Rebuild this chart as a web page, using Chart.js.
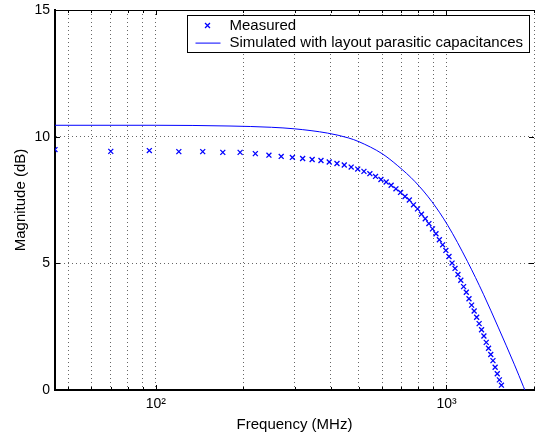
<!DOCTYPE html>
<html lang="en">
  <head>
    <meta charset="UTF-8" />
    <title>Magnitude vs frequency</title>
    <script src="https://cdn.jsdelivr.net/npm/chart.js"></script>
    <style>
      html,
      body {
        margin: 0;
        padding: 0;
        background: #fff;
        overflow: hidden;
      }

      .wrap {
        position: relative;
        width: 540px;
        height: 436px;
      }
    </style>
  </head>
  <body>
    <div class="wrap"><canvas id="chart" width="540" height="436"></canvas></div>

    <script>
      // measured points (MHz, dB)
      const measuredFreq = [
        45, 70, 95, 120, 145, 170, 195, 220, 245, 270, 295, 320, 345, 370, 395,
        420, 445, 470, 495, 520, 545, 570, 595, 620, 645, 670, 695, 720, 745,
        770, 795, 820, 845, 870, 895, 920, 945, 970, 995, 1020, 1045, 1070,
        1095, 1120, 1145, 1170, 1195, 1220, 1245, 1270, 1295, 1320, 1345, 1370,
        1395, 1420, 1445, 1470, 1495, 1520, 1545,
      ];
      const measuredDb = [
        9.49, 9.42, 9.45, 9.41, 9.41, 9.38, 9.38, 9.33, 9.27, 9.22, 9.18, 9.14,
        9.1, 9.06, 9.0, 8.94, 8.88, 8.8, 8.72, 8.63, 8.54, 8.43, 8.31, 8.21,
        8.08, 7.94, 7.8, 7.64, 7.5, 7.31, 7.15, 6.94, 6.76, 6.57, 6.36, 6.17,
        5.93, 5.73, 5.51, 5.27, 5.01, 4.8, 4.56, 4.33, 4.08, 3.86, 3.6, 3.35,
        3.12, 2.87, 2.62, 2.38, 2.13, 1.88, 1.65, 1.4, 1.16, 0.9, 0.64, 0.4,
        0.19,
      ];

      // simulated curve
      const simFreq = [
        45, 100, 180, 250, 300, 390, 460, 500, 600, 680, 780, 890, 1010, 1180,
        1340, 1510, 1710, 1840, 2000,
      ];
      const simDb = [
        10.45, 10.45, 10.42, 10.37, 10.31, 10.14, 9.95, 9.8, 9.33, 8.85, 8.22,
        7.44, 6.5, 5.08, 3.78, 2.45, 1.02, 0.13, -0.9,
      ];

      const gridFreqs = [
        50, 60, 70, 80, 90, 100, 200, 300, 400, 500, 600, 700, 800, 900, 1000,
        2000,
      ];
      const tickLabels = { 100: "10²", 1000: "10³" };
      const yTicks = [0, 5, 10, 15];

      const FONT = '"Liberation Sans", Arial, sans-serif';
      const BLUE = "#0000ff";

      const toPoints = (xs, ys) => xs.map((x, i) => ({ x, y: ys[i] }));

      // matlab style: top border + ticks pointing inwards
      const insideTicks = {
        id: "insideTicks",
        afterDatasetsDraw(chart) {
          const { ctx, chartArea } = chart;
          const xs = chart.scales.x;
          const ys = chart.scales.y;
          ctx.save();
          ctx.strokeStyle = "#000";
          ctx.lineWidth = 1;
          ctx.beginPath();
          ctx.moveTo(chartArea.left, chartArea.top + 0.5);
          ctx.lineTo(chartArea.right, chartArea.top + 0.5);
          gridFreqs.forEach((f) => {
            const px = Math.round(xs.getPixelForValue(f)) + 0.5;
            const len = tickLabels[f] ? 5 : 3;
            ctx.moveTo(px, chartArea.bottom);
            ctx.lineTo(px, chartArea.bottom - len);
            ctx.moveTo(px, chartArea.top);
            ctx.lineTo(px, chartArea.top + len);
          });
          yTicks.forEach((v) => {
            const py = Math.round(ys.getPixelForValue(v)) + 0.5;
            ctx.moveTo(chartArea.left, py);
            ctx.lineTo(chartArea.left + 5, py);
            ctx.moveTo(chartArea.right, py);
            ctx.lineTo(chartArea.right - 5, py);
          });
          ctx.stroke();
          ctx.restore();
        },
      };

      // boxed legend inside the top right corner
      const boxLegend = {
        id: "boxLegend",
        afterDraw(chart) {
          const { ctx, chartArea } = chart;
          const sets = chart.data.datasets;
          ctx.save();
          ctx.font = "15px " + FONT;
          const textW = Math.max(...sets.map((d) => ctx.measureText(d.label).width));
          const w = Math.round(42 + textW + 7);
          const h = 37;
          const left = Math.round(chartArea.right - 5 - w) + 0.5;
          const top = Math.round(chartArea.top + 5) + 0.5;
          ctx.fillStyle = "#fff";
          ctx.fillRect(left, top, w, h);
          ctx.strokeStyle = "#000";
          ctx.lineWidth = 1;
          ctx.strokeRect(left, top, w, h);

          sets.forEach((d, i) => {
            const y = top + 10 + i * 17.6;
            ctx.strokeStyle = d.borderColor;
            ctx.lineWidth = d.borderWidth;
            if (d.showLine === false) {
              Chart.helpers.drawPoint(
                ctx,
                { pointStyle: d.pointStyle, radius: d.pointRadius, borderWidth: d.borderWidth, rotation: 0 },
                left + 20,
                y
              );
            } else {
              ctx.beginPath();
              ctx.moveTo(left + 8, y);
              ctx.lineTo(left + 33, y);
              ctx.stroke();
            }
            ctx.fillStyle = "#000";
            ctx.textBaseline = "middle";
            ctx.textAlign = "left";
            ctx.fillText(d.label, left + 42, y);
          });
          ctx.restore();
        },
      };

      new Chart(document.getElementById("chart"), {
        type: "line",
        data: {
          datasets: [
            {
              label: "Measured",
              data: toPoints(measuredFreq, measuredDb),
              showLine: false,
              pointStyle: "crossRot",
              pointRadius: 3.5,
              borderWidth: 1.3,
              borderColor: BLUE,
              backgroundColor: BLUE,
            },
            {
              label: "Simulated with layout parasitic capacitances",
              data: toPoints(simFreq, simDb),
              pointRadius: 0,
              borderWidth: 1,
              borderColor: BLUE,
              cubicInterpolationMode: "monotone",
            },
          ],
        },
        options: {
          responsive: false,
          animation: false,
          layout: { padding: { left: 0, right: 3, top: 10, bottom: 0 } },
          plugins: {
            legend: { display: false },
            tooltip: { enabled: false },
          },
          scales: {
            x: {
              type: "logarithmic",
              min: 45,
              max: 2000,
              afterBuildTicks: (scale) => {
                scale.ticks = gridFreqs.map((v) => ({ value: v }));
              },
              afterFit: (scale) => {
                scale.height = 46;
              },
              grid: { color: "rgba(0,0,0,0.6)", lineWidth: 1, drawTicks: false },
              border: { display: true, color: "#000", width: 2, dash: [1, 3] },
              ticks: {
                autoSkip: false,
                maxRotation: 0,
                padding: 6,
                color: "#000",
                font: { family: FONT, size: 14 },
                callback: (v) => tickLabels[v] || "",
              },
              title: {
                display: true,
                text: "Frequency (MHz)",
                color: "#000",
                font: { family: FONT, size: 15 },
                padding: { top: 0, bottom: 2 },
              },
            },
            y: {
              min: 0,
              max: 15,
              afterFit: (scale) => {
                scale.width = 55;
                // keep the plot top at the layout padding
                scale.paddingTop = 0;
                scale.paddingBottom = 0;
              },
              grid: { color: "rgba(0,0,0,0.6)", lineWidth: 1, drawTicks: false },
              border: { display: true, color: "#000", width: 2, dash: [1, 3] },
              ticks: {
                stepSize: 5,
                padding: 5,
                color: "#000",
                font: { family: FONT, size: 14 },
              },
              title: {
                display: true,
                text: "Magnitude (dB)",
                color: "#000",
                font: { family: FONT, size: 15 },
                padding: { top: 12, bottom: 0 },
              },
            },
          },
        },
        plugins: [insideTicks, boxLegend],
      });
    </script>
  </body>
</html>
